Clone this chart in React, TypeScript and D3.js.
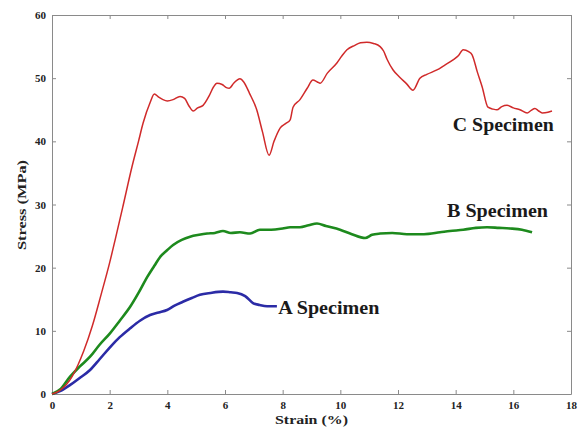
import * as d3 from "d3";
import { useRef, useEffect } from "react";

// strain (%) / stress (MPa)
const aStrain = [0, 0.3, 0.62, 0.95, 1.32, 1.65, 2.01, 2.35, 2.71, 3.05, 3.4, 3.7, 3.99, 4.25, 4.54, 4.85, 5.13, 5.5, 5.93, 6.2, 6.42, 6.7, 6.97, 7.2, 7.46, 7.65, 7.8];
const aStress = [0, 0.5, 1.4, 2.5, 3.8, 5.5, 7.4, 9.0, 10.4, 11.6, 12.5, 12.9, 13.3, 14.0, 14.6, 15.2, 15.7, 16.0, 16.2, 16.1, 16.0, 15.5, 14.4, 14.1, 13.9, 13.9, 13.9];

const bStrain = [0, 0.3, 0.62, 0.95, 1.32, 1.65, 2.01, 2.35, 2.71, 3.0, 3.3, 3.55, 3.75, 4.0, 4.2, 4.5, 4.79, 5.1, 5.38, 5.65, 5.93, 6.2, 6.52, 6.87, 7.21, 7.6, 8.0, 8.26, 8.6, 8.9, 9.19, 9.5, 9.99, 10.4, 10.86, 11.1, 11.38, 11.8, 12.31, 12.9, 13.46, 13.8, 14.26, 14.7, 15.09, 15.5, 15.89, 16.3, 16.65];
const bStress = [0, 0.8, 2.7, 4.3, 5.9, 7.8, 9.6, 11.6, 13.8, 16.0, 18.5, 20.3, 21.7, 22.8, 23.6, 24.4, 24.9, 25.2, 25.4, 25.5, 25.8, 25.5, 25.6, 25.4, 26.0, 26.0, 26.2, 26.4, 26.4, 26.7, 27.0, 26.6, 26.0, 25.3, 24.7, 25.2, 25.4, 25.5, 25.3, 25.3, 25.6, 25.8, 26.0, 26.3, 26.4, 26.3, 26.2, 26.0, 25.6];

const cStrain = [0, 0.25, 0.5, 0.7, 0.9, 1.1, 1.4, 1.7, 2.0, 2.2, 2.45, 2.77, 3.0, 3.16, 3.4, 3.55, 3.7, 3.85, 4.0, 4.2, 4.44, 4.6, 4.75, 4.9, 5.05, 5.24, 5.45, 5.6, 5.72, 5.9, 6.05, 6.15, 6.3, 6.52, 6.65, 6.85, 7.1, 7.3, 7.53, 7.7, 7.91, 8.1, 8.26, 8.36, 8.6, 8.85, 9.05, 9.2, 9.3, 9.55, 9.88, 10.05, 10.23, 10.5, 10.7, 10.92, 11.15, 11.38, 11.5, 11.62, 11.83, 12.05, 12.3, 12.52, 12.76, 13.0, 13.35, 13.6, 13.91, 14.1, 14.26, 14.45, 14.57, 14.75, 14.92, 15.12, 15.3, 15.43, 15.6, 15.78, 16.0, 16.23, 16.48, 16.62, 16.75, 16.88, 17.0, 17.2, 17.34];
const cStress = [0, 0.5, 1.5, 2.8, 4.6, 6.8, 10.8, 15.7, 20.8, 24.6, 29.5, 35.9, 40.0, 42.9, 46.1, 47.5, 47.0, 46.6, 46.4, 46.6, 47.1, 46.8, 45.6, 44.8, 45.3, 45.7, 47.2, 48.6, 49.2, 49.0, 48.5, 48.4, 49.2, 49.9, 49.4, 47.6, 45.0, 41.5, 37.8, 40.0, 42.1, 42.8, 43.4, 45.4, 46.6, 48.4, 49.7, 49.4, 49.2, 50.8, 52.4, 53.5, 54.5, 55.2, 55.6, 55.7, 55.5, 55.0, 54.3, 53.0, 51.3, 50.2, 49.1, 48.1, 50.0, 50.6, 51.3, 52.0, 52.9, 53.6, 54.5, 54.2, 53.7, 51.0, 48.6, 45.4, 45.1, 45.0, 45.5, 45.7, 45.3, 45.0, 44.5, 44.9, 45.2, 44.8, 44.5, 44.6, 44.8];

const xTicks = [0, 2, 4, 6, 8, 10, 12, 14, 16, 18];
const yTicks = [0, 10, 20, 30, 40, 50, 60];

const seriesNames = ["A Specimen", "B Specimen", "C Specimen"];
const seriesColors = ["#2b2ba6", "#1d8a1d", "#d02a2a"];

const App = () => {
    const chartRef = useRef<SVGSVGElement>(null);

    const width = 584;
    const height = 434;
    const margin = { top: 15, bottom: 40, left: 52, right: 13 };

    useEffect(() => {
        const svg = d3.select(chartRef.current);
        svg.selectAll("*").remove();

        const x = d3.scaleLinear().domain([0, 18]).range([margin.left, width - margin.right]);
        const y = d3.scaleLinear().domain([0, 60]).range([height - margin.bottom, margin.top]);

        const font = "'Liberation Serif', 'Times New Roman', Times, serif";

        // рамка и засечки внутрь
        const axisColor = "#8a8a8a";
        svg.append("g").attr("transform", `translate(0, ${y(0)})`)
            .call(d3.axisBottom(x).tickValues(xTicks).tickSizeInner(-4).tickSizeOuter(0).tickPadding(7))
            .call(g => g.selectAll("line, path").attr("stroke", axisColor));
        svg.append("g").attr("transform", `translate(0, ${y(60)})`)
            .call(d3.axisTop(x).tickValues(xTicks).tickSizeInner(-4).tickSizeOuter(0).tickFormat(() => ""))
            .call(g => g.selectAll("line, path").attr("stroke", axisColor));
        svg.append("g").attr("transform", `translate(${x(0)}, 0)`)
            .call(d3.axisLeft(y).tickValues(yTicks).tickSizeInner(-4).tickSizeOuter(0).tickPadding(6))
            .call(g => g.selectAll("line, path").attr("stroke", axisColor));
        svg.append("g").attr("transform", `translate(${x(18)}, 0)`)
            .call(d3.axisRight(y).tickValues(yTicks).tickSizeInner(-4).tickSizeOuter(0).tickFormat(() => ""))
            .call(g => g.selectAll("line, path").attr("stroke", axisColor));

        svg.selectAll(".tick text")
            .attr("font-family", font)
            .attr("font-weight", "bold")
            .attr("font-size", 11)
            .attr("fill", "#222");

        const line = d3.line<[number, number]>()
            .x(d => x(d[0]))
            .y(d => y(d[1]))
            .curve(d3.curveMonotoneX);

        const series: [number[], number[]][] = [
            [aStrain, aStress],
            [bStrain, bStress],
            [cStrain, cStress],
        ];
        const widths = [2.6, 2.6, 1.5];
        series.forEach(([xs, ys], i) => {
            const pts = xs.map((v, k) => [v, ys[k]] as [number, number]);
            svg.append("path")
                .attr("d", line(pts))
                .attr("fill", "none")
                .attr("stroke", seriesColors[i])
                .attr("stroke-width", widths[i])
                .attr("stroke-linejoin", "round");
        });

        // подписи кривых
        const labelPos: [number, number][] = [[7.85, 12.6], [13.7, 28.0], [13.9, 41.6]];
        seriesNames.forEach((name, i) => {
            svg.append("text")
                .attr("x", x(labelPos[i][0]))
                .attr("y", y(labelPos[i][1]))
                .attr("font-family", font)
                .attr("font-weight", "bold")
                .attr("font-size", 18)
                .attr("textLength", 101)
                .attr("lengthAdjust", "spacingAndGlyphs")
                .attr("fill", "#1a1a1a")
                .text(name);
        });

        svg.append("text")
            .attr("x", (x(0) + x(18)) / 2)
            .attr("y", 424)
            .attr("text-anchor", "middle")
            .attr("font-family", font)
            .attr("font-weight", "bold")
            .attr("font-size", 13)
            .attr("textLength", 73)
            .attr("lengthAdjust", "spacingAndGlyphs")
            .attr("fill", "#222")
            .text("Strain (%)");

        svg.append("text")
            .attr("transform", `translate(26, ${205}) rotate(-90)`)
            .attr("text-anchor", "middle")
            .attr("font-family", font)
            .attr("font-weight", "bold")
            .attr("font-size", 13)
            .attr("textLength", 90)
            .attr("lengthAdjust", "spacingAndGlyphs")
            .attr("fill", "#222")
            .text("Stress (MPa)");
    }, []);

    return (
        <svg ref={chartRef} width={width} height={height}
             style={{ position: "absolute", left: 0, top: 0, background: "#fff" }} />
    );
};

export default App;
